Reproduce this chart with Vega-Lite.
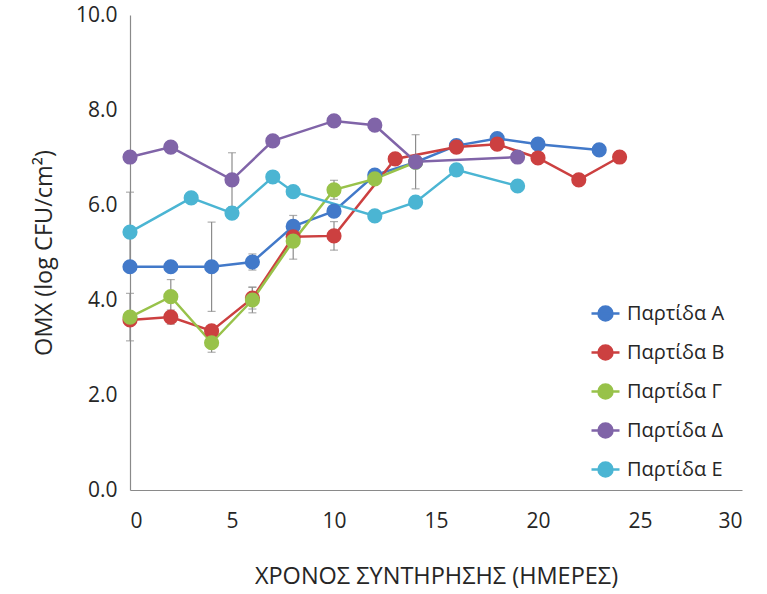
{
  "$schema": "https://vega.github.io/schema/vega-lite/v6.json",
  "width": 612,
  "height": 475,
  "autosize": {"type": "none"},
  "padding": {"left": 130, "top": 15, "right": 25, "bottom": 104},
  "background": "white",
  "config": {
    "view": {"stroke": null},
    "font": "Open Sans",
    "axis": {
      "grid": false,
      "ticks": false,
      "domainColor": "#8a8a8a",
      "domainWidth": 1.2,
      "labelFont": "Open Sans",
      "labelFontSize": 21,
      "labelColor": "#262626",
      "titleFont": "Open Sans",
      "titleFontSize": 23.5,
      "titleFontWeight": "normal",
      "titleColor": "#262626"
    }
  },
  "datasets": {
    "series": [
      {"batch": "Παρτίδα Α", "day": 0, "value": 4.7},
      {"batch": "Παρτίδα Α", "day": 2, "value": 4.7},
      {"batch": "Παρτίδα Α", "day": 4, "value": 4.7},
      {"batch": "Παρτίδα Α", "day": 6, "value": 4.8},
      {"batch": "Παρτίδα Α", "day": 8, "value": 5.55},
      {"batch": "Παρτίδα Α", "day": 10, "value": 5.87},
      {"batch": "Παρτίδα Α", "day": 12, "value": 6.63},
      {"batch": "Παρτίδα Α", "day": 14, "value": 6.9},
      {"batch": "Παρτίδα Α", "day": 16, "value": 7.25},
      {"batch": "Παρτίδα Α", "day": 18, "value": 7.4},
      {"batch": "Παρτίδα Α", "day": 20, "value": 7.28},
      {"batch": "Παρτίδα Α", "day": 23, "value": 7.16},
      {"batch": "Παρτίδα Β", "day": 0, "value": 3.58},
      {"batch": "Παρτίδα Β", "day": 2, "value": 3.64},
      {"batch": "Παρτίδα Β", "day": 4, "value": 3.35},
      {"batch": "Παρτίδα Β", "day": 6, "value": 4.04},
      {"batch": "Παρτίδα Β", "day": 8, "value": 5.33},
      {"batch": "Παρτίδα Β", "day": 10, "value": 5.35},
      {"batch": "Παρτίδα Β", "day": 13, "value": 6.97},
      {"batch": "Παρτίδα Β", "day": 16, "value": 7.22},
      {"batch": "Παρτίδα Β", "day": 18, "value": 7.28},
      {"batch": "Παρτίδα Β", "day": 20, "value": 6.99},
      {"batch": "Παρτίδα Β", "day": 22, "value": 6.53},
      {"batch": "Παρτίδα Β", "day": 24, "value": 7.01},
      {"batch": "Παρτίδα Γ", "day": 0, "value": 3.64},
      {"batch": "Παρτίδα Γ", "day": 2, "value": 4.07},
      {"batch": "Παρτίδα Γ", "day": 4, "value": 3.1},
      {"batch": "Παρτίδα Γ", "day": 6, "value": 4.0},
      {"batch": "Παρτίδα Γ", "day": 8, "value": 5.24},
      {"batch": "Παρτίδα Γ", "day": 10, "value": 6.32},
      {"batch": "Παρτίδα Γ", "day": 12, "value": 6.55},
      {"batch": "Παρτίδα Γ", "day": 14, "value": 6.9},
      {"batch": "Παρτίδα Δ", "day": 0, "value": 7.01},
      {"batch": "Παρτίδα Δ", "day": 2, "value": 7.22},
      {"batch": "Παρτίδα Δ", "day": 5, "value": 6.53},
      {"batch": "Παρτίδα Δ", "day": 7, "value": 7.35},
      {"batch": "Παρτίδα Δ", "day": 10, "value": 7.77},
      {"batch": "Παρτίδα Δ", "day": 12, "value": 7.68},
      {"batch": "Παρτίδα Δ", "day": 14, "value": 6.91},
      {"batch": "Παρτίδα Δ", "day": 19, "value": 7.01},
      {"batch": "Παρτίδα Ε", "day": 0, "value": 5.43},
      {"batch": "Παρτίδα Ε", "day": 3, "value": 6.15},
      {"batch": "Παρτίδα Ε", "day": 5, "value": 5.83},
      {"batch": "Παρτίδα Ε", "day": 7, "value": 6.59},
      {"batch": "Παρτίδα Ε", "day": 8, "value": 6.28},
      {"batch": "Παρτίδα Ε", "day": 12, "value": 5.77},
      {"batch": "Παρτίδα Ε", "day": 14, "value": 6.06},
      {"batch": "Παρτίδα Ε", "day": 16, "value": 6.74},
      {"batch": "Παρτίδα Ε", "day": 19, "value": 6.4}
    ],
    "errors": [
      {"batch": "Παρτίδα Α", "day": 4, "value": 4.7, "err": 0.94},
      {"batch": "Παρτίδα Α", "day": 6, "value": 4.8, "err": 0.17},
      {"batch": "Παρτίδα Α", "day": 8, "value": 5.55, "err": 0.23},
      {"batch": "Παρτίδα Α", "day": 12, "value": 6.63, "err": 0.1},
      {"batch": "Παρτίδα Β", "day": 2, "value": 3.64, "err": 0.15},
      {"batch": "Παρτίδα Β", "day": 6, "value": 4.04, "err": 0.23},
      {"batch": "Παρτίδα Β", "day": 10, "value": 5.35, "err": 0.3},
      {"batch": "Παρτίδα Γ", "day": 0, "value": 3.64, "err": 0.5},
      {"batch": "Παρτίδα Γ", "day": 2, "value": 4.07, "err": 0.36},
      {"batch": "Παρτίδα Γ", "day": 4, "value": 3.1, "err": 0.2},
      {"batch": "Παρτίδα Γ", "day": 6, "value": 4.0, "err": 0.27},
      {"batch": "Παρτίδα Γ", "day": 8, "value": 5.24, "err": 0.38},
      {"batch": "Παρτίδα Γ", "day": 10, "value": 6.32, "err": 0.2},
      {"batch": "Παρτίδα Δ", "day": 5, "value": 6.53, "err": 0.57},
      {"batch": "Παρτίδα Δ", "day": 14, "value": 6.91, "err": 0.57},
      {"batch": "Παρτίδα Ε", "day": 0, "value": 5.43, "err": 0.84}
    ]
  },
  "layer": [
    {
      "data": {"name": "errors"},
      "mark": {"type": "errorbar", "ticks": true, "color": "#8c8c8c", "thickness": 1.2, "size": 8},
      "encoding": {
        "x": {"field": "day", "type": "quantitative", "scale": {"domain": [0, 30]}, "axis": {"values": [0, 5, 10, 15, 20, 25, 30], "labelPadding": 20, "titlePadding": 33}, "title": "ΧΡΟΝΟΣ ΣΥΝΤΗΡΗΣΗΣ (ΗΜΕΡΕΣ)"},
        "y": {"field": "value", "type": "quantitative", "scale": {"domain": [0, 10]}, "axis": {"values": [0, 2, 4, 6, 8, 10], "format": ".1f", "labelPadding": 13, "titlePadding": 19}, "title": "ΟΜΧ (log CFU/cm²)"},
        "yError": {"field": "err"}
      }
    },
    {
      "data": {"name": "series"},
      "mark": {"type": "line", "strokeWidth": 2.5},
      "encoding": {
        "x": {"field": "day", "type": "quantitative", "title": "ΧΡΟΝΟΣ ΣΥΝΤΗΡΗΣΗΣ (ΗΜΕΡΕΣ)"},
        "y": {"field": "value", "type": "quantitative", "title": "ΟΜΧ (log CFU/cm²)"},
        "color": {"field": "batch", "type": "nominal",
          "scale": {"domain": ["Παρτίδα Α", "Παρτίδα Β", "Παρτίδα Γ", "Παρτίδα Δ", "Παρτίδα Ε"], "range": ["#4279c9", "#cc4040", "#98c24a", "#8064a8", "#4bb5d3"]}}
      }
    },
    {
      "data": {"name": "series"},
      "mark": {"type": "point", "filled": true, "size": 230, "opacity": 1},
      "encoding": {
        "x": {"field": "day", "type": "quantitative", "title": "ΧΡΟΝΟΣ ΣΥΝΤΗΡΗΣΗΣ (ΗΜΕΡΕΣ)"},
        "y": {"field": "value", "type": "quantitative", "title": "ΟΜΧ (log CFU/cm²)"},
        "color": {"field": "batch", "type": "nominal",
          "scale": {"domain": ["Παρτίδα Α", "Παρτίδα Β", "Παρτίδα Γ", "Παρτίδα Δ", "Παρτίδα Ε"], "range": ["#4279c9", "#cc4040", "#98c24a", "#8064a8", "#4bb5d3"]},
          "legend": {
            "orient": "none",
            "legendX": 460,
            "legendY": 283,
            "title": null,
            "symbolType": "M-1,0L1,0M-0.5,0A0.5,0.5 0 1,0 0.5,0A0.5,0.5 0 1,0 -0.5,0",
            "symbolSize": 784,
            "symbolStrokeWidth": 2.5,
            "labelFont": "Open Sans",
            "labelFontSize": 20,
            "labelColor": "#262626",
            "labelOffset": 6,
            "rowPadding": 11,
            "encode": {"symbols": {"update": {"stroke": {"scale": "color", "field": "value"}, "fill": {"scale": "color", "field": "value"}, "opacity": {"value": 1}}}}
          }
        }
      }
    }
  ]
}
